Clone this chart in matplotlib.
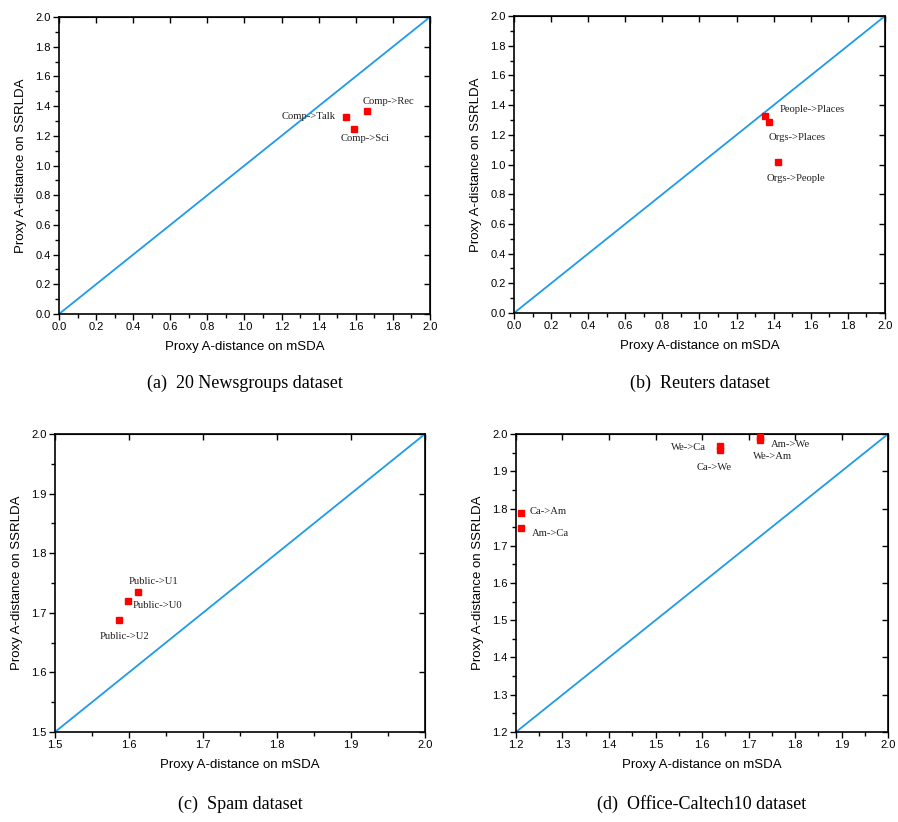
import numpy as np
import matplotlib
matplotlib.use("Agg")
import matplotlib.pyplot as plt
from matplotlib.ticker import MultipleLocator

# panel (a) 20 Newsgroups
ng_names = ["Comp->Talk", "Comp->Rec", "Comp->Sci"]
ng_x = [1.547, 1.66, 1.59]
ng_y = [1.327, 1.367, 1.246]

# panel (b) Reuters
re_names = ["People->Places", "Orgs->Places", "Orgs->People"]
re_x = [1.353, 1.375, 1.423]
re_y = [1.327, 1.286, 1.017]

# panel (c) Spam
sp_names = ["Public->U1", "Public->U0", "Public->U2"]
sp_x = [1.612, 1.599, 1.586]
sp_y = [1.735, 1.72, 1.688]

# panel (d) Office-Caltech10
oc_names = ["Ca->Am", "Am->Ca", "We->Ca", "Ca->We", "Am->We", "We->Am"]
oc_x = [1.211, 1.211, 1.639, 1.639, 1.725, 1.725]
oc_y = [1.788, 1.748, 1.968, 1.957, 1.992, 1.984]

captions = ["(a)  20 Newsgroups dataset", "(b)  Reuters dataset",
            "(c)  Spam dataset", "(d)  Office-Caltech10 dataset"]

sans = "Liberation Sans"
serif = "Liberation Serif"
line_c = "#1E9BE8"

fig = plt.figure(figsize=(8.98, 8.22), dpi=100)

panels = [
    # rect, names, x, y, limits, major, minor, label offsets (pixels), caption y
    ([0.0657, 0.618, 0.4131, 0.3613], ng_names, ng_x, ng_y, (0, 2), 0.2, 0.1,
     [(-37, 0), (22, 10), (11, -10)], 0.523),
    ([0.5724, 0.6192, 0.4131, 0.3613], re_names, re_x, re_y, (0, 2), 0.2, 0.1,
     [(47, 6), (28, -15), (18, -17)], 0.523),
    ([0.0612, 0.1095, 0.412, 0.3625], sp_names, sp_x, sp_y, (1.5, 2.0), 0.1, 0.05,
     [(16, 10), (29, -5), (6, -17)], 0.011),
    ([0.5746, 0.1095, 0.4143, 0.3625], oc_names, oc_x, oc_y, (1.2, 2.0), 0.1, 0.05,
     [(27, 1), (29, -6), (-32, -2), (-6, -17), (30, -8), (12, -17)], 0.011),
]

for i, (rect, names, xs, ys, lim, major, minor, offs, cap_y) in enumerate(panels):
    ax = fig.add_axes(rect)
    ax.plot(lim, lim, color=line_c, lw=1.3, zorder=2)
    ax.plot(xs, ys, "s", color="#FF0000", ms=5, mec="#FF0000", zorder=3)
    for name, x, y, (dx, dy) in zip(names, xs, ys, offs):
        ax.annotate(name, (x, y), xytext=(dx, dy), textcoords="offset pixels",
                    ha="center", va="center", fontsize=7.7, family=serif,
                    color="#222222")
    ax.set_xlim(lim)
    ax.set_ylim(lim)
    ax.xaxis.set_major_locator(MultipleLocator(major))
    ax.yaxis.set_major_locator(MultipleLocator(major))
    ax.xaxis.set_minor_locator(MultipleLocator(minor))
    ax.yaxis.set_minor_locator(MultipleLocator(minor))
    ax.tick_params(which="major", direction="out", length=4, width=1,
                   labelsize=8, pad=2)
    ax.tick_params(which="minor", direction="out", length=3, width=1)
    for lab in ax.get_xticklabels() + ax.get_yticklabels():
        lab.set_family(sans)
    for s in ax.spines.values():
        s.set_linewidth(1.2)
    # inward majors on top and right
    sec_x = ax.secondary_xaxis("top")
    sec_x.xaxis.set_major_locator(MultipleLocator(major))
    sec_x.tick_params(direction="in", length=4, width=1, labeltop=False)
    sec_y = ax.secondary_yaxis("right")
    sec_y.yaxis.set_major_locator(MultipleLocator(major))
    sec_y.tick_params(direction="in", length=4, width=1, labelright=False)
    ax.set_xlabel("Proxy A-distance on mSDA", fontsize=9.5, family=sans, labelpad=6)
    ax.set_ylabel("Proxy A-distance on SSRLDA", fontsize=9.5, family=sans, labelpad=6)
    fig.text(rect[0] + rect[2] / 2, cap_y, captions[i],
             ha="center", va="bottom", fontsize=13, family=serif)

fig.savefig("out.png", dpi=100)
